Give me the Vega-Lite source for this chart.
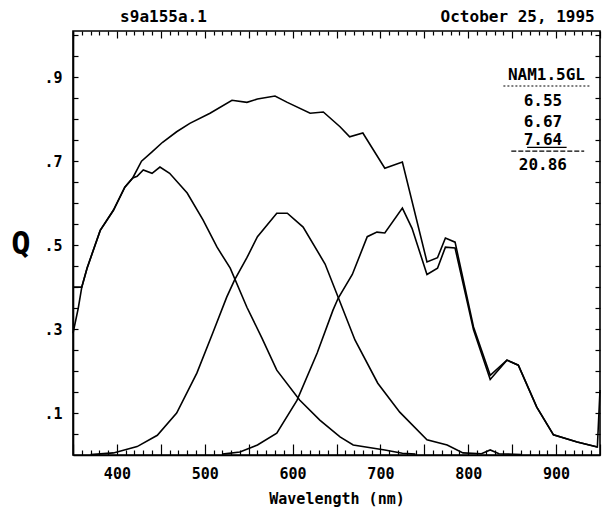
{
  "$schema": "https://vega.github.io/schema/vega-lite/v6.json",
  "autosize": "none",
  "width": 527,
  "height": 424,
  "padding": {"left": 73, "top": 31, "right": 3, "bottom": 60},
  "config": {
    "view": {"stroke": "black", "strokeWidth": 1.6},
    "axis": {"grid": false, "domainColor": "black", "tickColor": "black", "labelColor": "black", "titleColor": "black", "domainWidth": 1.6, "tickWidth": 1.2,
      "labelFont": "DejaVu Sans Mono", "labelFontWeight": "bold", "labelFontSize": 15,
      "titleFont": "DejaVu Sans Mono", "titleFontWeight": "bold", "titleFontSize": 15}
  },
  "datasets": {
    "curves": [
    {"curve": "total", "wl": 350, "q": 0.40}, {"curve": "total", "wl": 360, "q": 0.40}, {"curve": "total", "wl": 366, "q": 0.445},
    {"curve": "total", "wl": 381, "q": 0.535}, {"curve": "total", "wl": 396, "q": 0.583}, {"curve": "total", "wl": 409, "q": 0.638},
    {"curve": "total", "wl": 418, "q": 0.66}, {"curve": "total", "wl": 428, "q": 0.70}, {"curve": "total", "wl": 440, "q": 0.722},
    {"curve": "total", "wl": 452, "q": 0.745}, {"curve": "total", "wl": 468, "q": 0.77}, {"curve": "total", "wl": 483, "q": 0.79},
    {"curve": "total", "wl": 506, "q": 0.814}, {"curve": "total", "wl": 531, "q": 0.845}, {"curve": "total", "wl": 548, "q": 0.84},
    {"curve": "total", "wl": 560, "q": 0.848}, {"curve": "total", "wl": 580, "q": 0.855}, {"curve": "total", "wl": 594, "q": 0.84},
    {"curve": "total", "wl": 620, "q": 0.814}, {"curve": "total", "wl": 635, "q": 0.817}, {"curve": "total", "wl": 654, "q": 0.782},
    {"curve": "total", "wl": 665, "q": 0.758}, {"curve": "total", "wl": 680, "q": 0.767}, {"curve": "total", "wl": 705, "q": 0.683},
    {"curve": "total", "wl": 725, "q": 0.698}, {"curve": "total", "wl": 753, "q": 0.46}, {"curve": "total", "wl": 765, "q": 0.47},
    {"curve": "total", "wl": 774, "q": 0.517}, {"curve": "total", "wl": 785, "q": 0.507}, {"curve": "total", "wl": 806, "q": 0.305},
    {"curve": "total", "wl": 825, "q": 0.19}, {"curve": "total", "wl": 844, "q": 0.226}, {"curve": "total", "wl": 857, "q": 0.214},
    {"curve": "total", "wl": 878, "q": 0.114}, {"curve": "total", "wl": 897, "q": 0.048}, {"curve": "total", "wl": 924, "q": 0.031},
    {"curve": "total", "wl": 947, "q": 0.019}, {"curve": "total", "wl": 950, "q": 0.155},

    {"curve": "c1", "wl": 350, "q": 0.29}, {"curve": "c1", "wl": 356, "q": 0.35}, {"curve": "c1", "wl": 360, "q": 0.40},
    {"curve": "c1", "wl": 366, "q": 0.445}, {"curve": "c1", "wl": 381, "q": 0.535}, {"curve": "c1", "wl": 396, "q": 0.583},
    {"curve": "c1", "wl": 409, "q": 0.638}, {"curve": "c1", "wl": 418, "q": 0.66}, {"curve": "c1", "wl": 423, "q": 0.664},
    {"curve": "c1", "wl": 430, "q": 0.679}, {"curve": "c1", "wl": 440, "q": 0.671}, {"curve": "c1", "wl": 449, "q": 0.686},
    {"curve": "c1", "wl": 460, "q": 0.671}, {"curve": "c1", "wl": 480, "q": 0.624}, {"curve": "c1", "wl": 498, "q": 0.56},
    {"curve": "c1", "wl": 514, "q": 0.495}, {"curve": "c1", "wl": 529, "q": 0.445}, {"curve": "c1", "wl": 548, "q": 0.352},
    {"curve": "c1", "wl": 565, "q": 0.279}, {"curve": "c1", "wl": 582, "q": 0.202}, {"curve": "c1", "wl": 608, "q": 0.131},
    {"curve": "c1", "wl": 631, "q": 0.083}, {"curve": "c1", "wl": 654, "q": 0.043}, {"curve": "c1", "wl": 669, "q": 0.024},
    {"curve": "c1", "wl": 705, "q": 0.012}, {"curve": "c1", "wl": 725, "q": 0.004}, {"curve": "c1", "wl": 740, "q": 0.002},

    {"curve": "c2", "wl": 370, "q": 0.001}, {"curve": "c2", "wl": 396, "q": 0.005}, {"curve": "c2", "wl": 423, "q": 0.02},
    {"curve": "c2", "wl": 446, "q": 0.047}, {"curve": "c2", "wl": 468, "q": 0.1}, {"curve": "c2", "wl": 491, "q": 0.195},
    {"curve": "c2", "wl": 509, "q": 0.29}, {"curve": "c2", "wl": 525, "q": 0.376}, {"curve": "c2", "wl": 534, "q": 0.417},
    {"curve": "c2", "wl": 548, "q": 0.47}, {"curve": "c2", "wl": 560, "q": 0.52}, {"curve": "c2", "wl": 582, "q": 0.576},
    {"curve": "c2", "wl": 594, "q": 0.576}, {"curve": "c2", "wl": 612, "q": 0.543}, {"curve": "c2", "wl": 637, "q": 0.455},
    {"curve": "c2", "wl": 652, "q": 0.375}, {"curve": "c2", "wl": 671, "q": 0.274}, {"curve": "c2", "wl": 697, "q": 0.171},
    {"curve": "c2", "wl": 722, "q": 0.102}, {"curve": "c2", "wl": 753, "q": 0.036}, {"curve": "c2", "wl": 776, "q": 0.024},
    {"curve": "c2", "wl": 794, "q": 0.005}, {"curve": "c2", "wl": 815, "q": 0.003}, {"curve": "c2", "wl": 825, "q": 0.012},
    {"curve": "c2", "wl": 835, "q": 0.003}, {"curve": "c2", "wl": 860, "q": 0.001},

    {"curve": "c3", "wl": 520, "q": 0.002}, {"curve": "c3", "wl": 540, "q": 0.007}, {"curve": "c3", "wl": 560, "q": 0.024},
    {"curve": "c3", "wl": 582, "q": 0.052}, {"curve": "c3", "wl": 605, "q": 0.13}, {"curve": "c3", "wl": 628, "q": 0.243},
    {"curve": "c3", "wl": 646, "q": 0.345}, {"curve": "c3", "wl": 652, "q": 0.374}, {"curve": "c3", "wl": 668, "q": 0.43},
    {"curve": "c3", "wl": 685, "q": 0.52}, {"curve": "c3", "wl": 696, "q": 0.531}, {"curve": "c3", "wl": 705, "q": 0.529},
    {"curve": "c3", "wl": 725, "q": 0.588}, {"curve": "c3", "wl": 736, "q": 0.54}, {"curve": "c3", "wl": 753, "q": 0.43},
    {"curve": "c3", "wl": 765, "q": 0.445}, {"curve": "c3", "wl": 774, "q": 0.495}, {"curve": "c3", "wl": 785, "q": 0.493},
    {"curve": "c3", "wl": 806, "q": 0.298}, {"curve": "c3", "wl": 825, "q": 0.18}, {"curve": "c3", "wl": 844, "q": 0.226},
    {"curve": "c3", "wl": 857, "q": 0.214}, {"curve": "c3", "wl": 878, "q": 0.114}, {"curve": "c3", "wl": 897, "q": 0.048},
    {"curve": "c3", "wl": 924, "q": 0.031}, {"curve": "c3", "wl": 947, "q": 0.019}
    ],
    "frame": [{"wl": 350, "q": 0}, {"wl": 950, "q": 1}]
  },
  "data": {"name": "frame"},
  "resolve": {"axis": {"x": "independent", "y": "independent"}},
  "layer": [
    {
      "mark": {"type": "point", "opacity": 0},
      "encoding": {
        "x": {"field": "wl", "type": "quantitative", "scale": {"domain": [350, 950], "nice": false, "zero": false},
          "axis": {"orient": "bottom", "values": [400, 500, 600, 700, 800, 900], "format": "d", "ticks": false, "labelPadding": 11, "title": "Wavelength (nm)", "titlePadding": 10}},
        "y": {"field": "q", "type": "quantitative", "scale": {"domain": [0, 1.01], "nice": false, "zero": false},
          "axis": {"orient": "left", "values": [0.1, 0.3, 0.5, 0.7, 0.9], "format": ".1f", "labelExpr": "replace(datum.label, '0.', '.')", "ticks": false, "labelPadding": 11,
            "title": "Q", "titleAngle": 0, "titleAlign": "right", "titleBaseline": "middle", "titlePadding": 14, "titleFontSize": 32}}
      }
    },
    {
      "mark": {"type": "point", "opacity": 0},
      "encoding": {
        "x": {"field": "wl", "type": "quantitative",
          "axis": {"orient": "bottom", "offset": -11, "values": [350, 400, 450, 500, 550, 600, 650, 700, 750, 800, 850, 900, 950], "labels": false, "domain": false, "tickSize": 11, "title": null}},
        "y": {"field": "q", "type": "quantitative",
          "axis": {"orient": "left", "offset": -5, "values": [0.05, 0.1, 0.15, 0.2, 0.25, 0.3, 0.35, 0.4, 0.45, 0.5, 0.55, 0.6, 0.65, 0.7, 0.75, 0.8, 0.85, 0.9, 0.95, 1.0], "labels": false, "domain": false, "tickSize": 5, "title": null}}
      }
    },
    {
      "mark": {"type": "point", "opacity": 0},
      "encoding": {
        "x": {"field": "wl", "type": "quantitative",
          "axis": {"orient": "bottom", "offset": -5, "values": [360, 370, 380, 390, 410, 420, 430, 440, 460, 470, 480, 490, 510, 520, 530, 540, 560, 570, 580, 590, 610, 620, 630, 640, 660, 670, 680, 690, 710, 720, 730, 740, 760, 770, 780, 790, 810, 820, 830, 840, 860, 870, 880, 890, 910, 920, 930, 940], "labels": false, "domain": false, "tickSize": 5, "title": null}},
        "y": {"field": "q", "type": "quantitative",
          "axis": {"orient": "right", "offset": -5, "values": [0.05, 0.1, 0.15, 0.2, 0.25, 0.3, 0.35, 0.4, 0.45, 0.5, 0.55, 0.6, 0.65, 0.7, 0.75, 0.8, 0.85, 0.9, 0.95, 1.0], "labels": false, "domain": false, "tickSize": 5, "title": null}}
      }
    },
    {
      "mark": {"type": "point", "opacity": 0},
      "encoding": {
        "x": {"field": "wl", "type": "quantitative",
          "axis": {"orient": "top", "offset": -7, "values": [350, 400, 450, 500, 550, 600, 650, 700, 750, 800, 850, 900, 950], "labels": false, "domain": false, "tickSize": 7, "title": null}},
        "y": {"field": "q", "type": "quantitative", "axis": null}
      }
    },
    {
      "mark": {"type": "point", "opacity": 0},
      "encoding": {
        "x": {"field": "wl", "type": "quantitative",
          "axis": {"orient": "top", "offset": -4, "values": [360, 370, 380, 390, 410, 420, 430, 440, 460, 470, 480, 490, 510, 520, 530, 540, 560, 570, 580, 590, 610, 620, 630, 640, 660, 670, 680, 690, 710, 720, 730, 740, 760, 770, 780, 790, 810, 820, 830, 840, 860, 870, 880, 890, 910, 920, 930, 940], "labels": false, "domain": false, "tickSize": 4, "title": null}},
        "y": {"field": "q", "type": "quantitative", "axis": null}
      }
    },
    {
      "data": {"name": "curves"},
      "mark": {"type": "line", "color": "black", "strokeWidth": 1.6},
      "encoding": {
        "x": {"field": "wl", "type": "quantitative", "axis": null},
        "y": {"field": "q", "type": "quantitative", "axis": null},
        "detail": {"field": "curve"}
      }
    },
    {
      "data": {"values": [
        {"label": "NAM1.5GL", "wl": 889, "q": 0.905},
        {"label": "6.55", "wl": 885, "q": 0.843},
        {"label": "6.67", "wl": 885, "q": 0.793},
        {"label": "7.64", "wl": 885, "q": 0.750},
        {"label": "20.86", "wl": 885, "q": 0.691}
      ]},
      "mark": {"type": "text", "font": "DejaVu Sans Mono", "fontWeight": "bold", "fontSize": 16, "align": "center", "baseline": "middle", "color": "black"},
      "encoding": {
        "x": {"field": "wl", "type": "quantitative", "axis": null},
        "y": {"field": "q", "type": "quantitative", "axis": null},
        "text": {"field": "label"}
      }
    },
    {
      "data": {"values": [
        {"label": "s9a155a.1", "wl": 453, "q": 1.043}
      ]},
      "mark": {"type": "text", "font": "DejaVu Sans Mono", "fontWeight": "bold", "fontSize": 16, "align": "center", "baseline": "middle", "color": "black"},
      "encoding": {
        "x": {"field": "wl", "type": "quantitative", "axis": null},
        "y": {"field": "q", "type": "quantitative", "axis": null},
        "text": {"field": "label"}
      }
    },
    {
      "data": {"values": [
        {"label": "October 25, 1995", "wl": 944, "q": 1.043}
      ]},
      "mark": {"type": "text", "font": "DejaVu Sans Mono", "fontWeight": "bold", "fontSize": 16, "align": "right", "baseline": "middle", "color": "black"},
      "encoding": {
        "x": {"field": "wl", "type": "quantitative", "axis": null},
        "y": {"field": "q", "type": "quantitative", "axis": null},
        "text": {"field": "label"}
      }
    },
    {
      "data": {"values": [{"wl": 840, "q": 0.879}, {"wl": 939, "q": 0.879}]},
      "mark": {"type": "line", "color": "black", "strokeWidth": 1.2, "strokeDash": [2, 2]},
      "encoding": {
        "x": {"field": "wl", "type": "quantitative", "axis": null},
        "y": {"field": "q", "type": "quantitative", "axis": null}
      }
    },
    {
      "data": {"values": [{"wl": 867, "q": 0.733}, {"wl": 912, "q": 0.733}]},
      "mark": {"type": "line", "color": "black", "strokeWidth": 1.2},
      "encoding": {
        "x": {"field": "wl", "type": "quantitative", "axis": null},
        "y": {"field": "q", "type": "quantitative", "axis": null}
      }
    },
    {
      "data": {"values": [{"wl": 849, "q": 0.724}, {"wl": 932, "q": 0.724}]},
      "mark": {"type": "line", "color": "black", "strokeWidth": 1.2, "strokeDash": [5, 2]},
      "encoding": {
        "x": {"field": "wl", "type": "quantitative", "axis": null},
        "y": {"field": "q", "type": "quantitative", "axis": null}
      }
    }
  ]
}
